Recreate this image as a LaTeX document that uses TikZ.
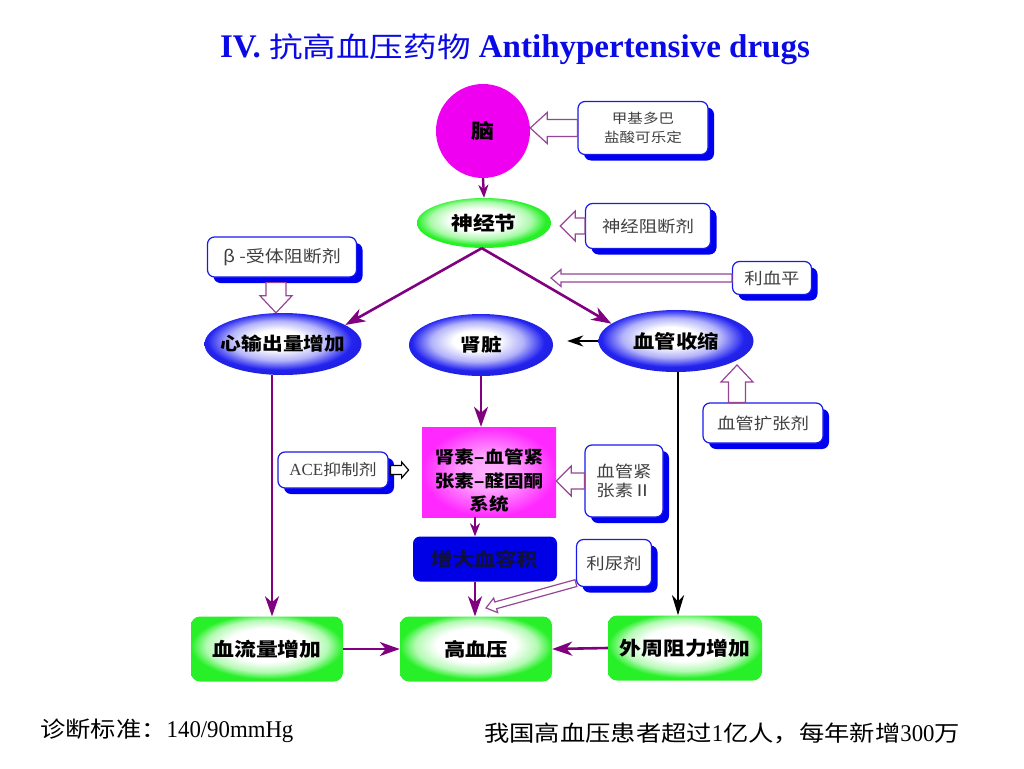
\documentclass[tikz,border=0pt]{standalone}
\usepackage{fontspec}
\usetikzlibrary{shapes.geometric,arrows.meta,calc,shadows}
\newfontfamily\cjk[FakeStretch=1.15]{Noto Sans CJK SC}
\newfontfamily\cjkt[FakeStretch=1.2]{Noto Sans CJK SC}
\newfontfamily\latr{Liberation Serif}
\newfontfamily\latn[FakeStretch=0.95]{Liberation Serif}
\definecolor{arrp}{RGB}{128,0,128}
\definecolor{hollowp}{RGB}{150,70,150}
\definecolor{boxblue}{RGB}{25,25,235}
\definecolor{shadowblue}{RGB}{0,0,240}
\definecolor{graytxt}{RGB}{64,64,64}
\definecolor{zdblue}{RGB}{0,0,230}
\definecolor{brainmag}{RGB}{240,0,240}
\definecolor{g1}{RGB}{40,240,40}
\definecolor{b1}{RGB}{35,35,240}
\definecolor{m1}{RGB}{255,40,255}
\definecolor{titleblue}{RGB}{10,10,230}
\pgfdeclareradialshading{bluesh}{\pgfpoint{-2bp}{4bp}}{color(0bp)=(white);color(8bp)=(white);color(16bp)=(b1!35!white);color(23bp)=(b1);color(25bp)=(b1!95!black);color(50bp)=(b1!95!black)}
\pgfdeclareradialshading{greensh}{\pgfpoint{-2bp}{4bp}}{color(0bp)=(white);color(11bp)=(white);color(19bp)=(g1!40!white);color(24bp)=(g1);color(50bp)=(g1)}
\pgfdeclareradialshading{greenbx}{\pgfpoint{0bp}{4bp}}{color(0bp)=(white);color(13bp)=(white);color(20bp)=(g1!35!white);color(25bp)=(g1);color(50bp)=(g1)}
\pgfdeclareradialshading{magsh}{\pgfpoint{0bp}{0bp}}{color(0bp)=(m1!35!white);color(10bp)=(m1!45!white);color(25bp)=(m1);color(50bp)=(m1)}
\newcommand\harrow[6]{%
  \draw[hollow,#1] let \p1=(#2), \p2=(#3), \n1={atan2(\y2-\y1,\x2-\x1)}, \n2={veclen(\x2-\x1,\y2-\y1)-#6} in
    ($(\p1)+(\n1+90:#4)$) -- ($(\p1)+(\n1:\n2)+(\n1+90:#4)$) -- ($(\p1)+(\n1:\n2)+(\n1+90:#5)$) -- (\p2)
    -- ($(\p1)+(\n1:\n2)+(\n1-90:#5)$) -- ($(\p1)+(\n1:\n2)+(\n1-90:#4)$) -- ($(\p1)+(\n1-90:#4)$) -- cycle;}
\tikzset{
  drugbox/.style={draw=boxblue, line width=1.2pt, fill=white, rounded corners=7pt, inner sep=0pt, align=center,
    text=graytxt, font=\cjk\fontsize{16}{19}\selectfont,
    drop shadow={shadow xshift=6pt, shadow yshift=-6pt, fill=shadowblue, opacity=1}},
  bigtxt/.style={font=\cjk\bfseries\fontsize{18}{20}\selectfont, text=black},
  blueell/.style={ellipse, shade, shading=bluesh, inner sep=0pt},
  greenell/.style={ellipse, shade, shading=greensh, inner sep=0pt},
  greenbox/.style={rectangle, rounded corners=9pt, shade, shading=greenbx, inner sep=0pt, minimum width=152pt, minimum height=65pt,
    font=\cjk\bfseries\fontsize{19}{22}\selectfont},
  parr/.style={draw=arrp, line width=2.6pt, -{Stealth[length=20pt,width=14pt,inset=6pt]}},
  parrs/.style={draw=arrp, line width=2.4pt, -{Stealth[length=13pt,width=10pt,inset=4pt]}},
  barr/.style={draw=black, line width=2.4pt, -{Stealth[length=20pt,width=12pt,inset=6pt]}},
  hollow/.style={draw=hollowp, line width=1.2pt, fill=white, line join=miter},
  plain/.style={anchor=west, inner sep=0pt, font=\cjk\fontsize{22}{24}\selectfont},
}
\newcommand\digs[1]{{\latn\fontsize{24}{24}\selectfont #1}}
\begin{document}
\begin{tikzpicture}[x=1pt,y=-1pt]
\path[use as bounding box, fill=white] (0,0) rectangle (1024,768);

% title
\node[anchor=base, text=titleblue, inner sep=0pt] (title) at (515,57)
  {\latr\bfseries\fontsize{33}{36}\selectfont IV. {\cjkt\mdseries\fontsize{28}{30}\selectfont 抗高血压药物} Antihypertensive drugs};

% main shapes
\node[circle, fill=brainmag, minimum size=94pt, inner sep=0pt, bigtxt, font=\cjk\bfseries\fontsize{20}{22}\selectfont] (brain) at (483,131) {脑};
\node[greenell, minimum width=134pt, minimum height=50pt, label={[bigtxt,font=\cjk\bfseries\fontsize{19}{21}\selectfont]center:神经节}] (gj) at (484,223) {};
\node[blueell, minimum width=157pt, minimum height=62pt, label={[bigtxt]center:心输出量增加}] (cx) at (283,344) {};
\node[blueell, minimum width=144pt, minimum height=62pt, label={[bigtxt]center:肾脏}] (sz) at (481,345) {};
\node[blueell, minimum width=155pt, minimum height=62pt, label={[bigtxt,font=\cjk\bfseries\fontsize{18.5}{20}\selectfont]center:血管收缩}] (xg) at (676,341) {};
\node[rectangle, shade, shading=magsh, minimum width=134pt, minimum height=90pt, inner sep=0pt,
  label={[bigtxt, align=center, font=\cjk\bfseries\fontsize{17}{23.5}\selectfont, yshift=-9pt]center:{肾素–血管紧\\张素–醛固酮\\系统}}] (raas) at (489,472) {};
\node[rectangle, rounded corners=7pt, fill=zdblue, minimum width=144pt, minimum height=45pt, inner sep=0pt,
  font=\cjk\bfseries\fontsize{18.5}{20}\selectfont, text={rgb,255:red,16;green,16;blue,64}] (zd) at (485,559) {增大血容积};
\node[greenbox] (bl) at (267,649) {血流量增加};
\node[greenbox, font=\cjk\bfseries\fontsize{18.5}{22}\selectfont] (gxy) at (476,649) {高血压};
\node[greenbox, minimum width=154pt] (wz) at (685,648) {外周阻力增加};

% drug boxes
\node[drugbox, minimum width=130pt, minimum height=53pt, font=\cjk\fontsize{13.5}{19}\selectfont] (mdbox) at (643,128) {甲基多巴\\盐酸可乐定};
\node[drugbox, minimum width=125pt, minimum height=45pt] (sjbox) at (648,226) {神经阻断剂};
\node[drugbox, minimum width=149pt, minimum height=40pt, font=\cjk\fontsize{16.5}{19}\selectfont] (bbox) at (282,257) {β -受体阻断剂};
\node[drugbox, minimum width=79pt, minimum height=33pt] (lxp) at (772,278) {利血平};
\node[drugbox, minimum width=120pt, minimum height=40pt] (xgkz) at (763,423) {血管扩张剂};
\node[drugbox, minimum width=110pt, minimum height=36pt, font=\cjk\fontsize{15.5}{19}\selectfont] (ace) at (333,470) {{\latr\fontsize{17}{19}\selectfont ACE}抑制剂};
\node[drugbox, minimum width=78pt, minimum height=72pt] (ag2) at (624,481) {血管紧\\张素Ⅱ};
\node[drugbox, minimum width=75pt, minimum height=47pt] (lnj) at (614,563) {利尿剂};

% helper coordinates
\path (gj.east) ++(9,0) coordinate (gjR);
\path (bbox.south) ++(-6,5) coordinate (bS);
\coordinate (lxpT) at (551,278);
\path (xgkz.north) ++(-26,0) coordinate (xkN);
\coordinate (xkT) at (737,365);
\path (ace.east) ++(2,0) coordinate (aceE);
\path (aceE) ++(18,0) coordinate (aceT);
\path (lnj.south west) ++(0,-4) coordinate (lnjS);
\coordinate (lnjT) at (486,608);
\path (sz.east) ++(14,0) coordinate (szE);
\path (raas.south) ++(-14,0) coordinate (raasS);
\path (zd.south) ++(-10,0) coordinate (zdS);
\path (cx.south) ++(-11,0) coordinate (cxS);
\path (xg.south) ++(2,0) coordinate (xgS);

% solid connectors
\draw[parrs] (brain.south) -- (gj.north);
\draw[parr] (gj.-95) -- (cx.17);
\draw[parr] (gj.-95) -- (xg.165);
\draw[barr, -{Stealth[length=16pt,width=11pt,inset=5pt]}] (xg.west) -- (szE |- xg.west);
\draw[parr] (sz.south) -- (sz.south |- raas.north);
\draw[parrs] (raasS) -- (raasS |- zd.north);
\draw[parr] (zdS) -- (zdS |- gxy.north);
\draw[parr] (cxS) -- (cxS |- bl.north);
\draw[barr] (xgS) -- (xgS |- wz.north);
\draw[parr] (bl.east) -- (gxy.west);
\draw[parr] (wz.west) -- (gxy.east);

% hollow drug arrows
\harrow{}{mdbox.west}{brain.east |- mdbox.west}{8.5pt}{15.5pt}{17pt}
\harrow{}{sjbox.west}{gjR |- sjbox.west}{8pt}{15pt}{15pt}
\harrow{}{bS}{bS |- cx.north}{10pt}{16pt}{17pt}
\harrow{}{lxp.west}{lxpT}{4pt}{8.5pt}{10pt}
\harrow{}{xkN}{xkT}{8.5pt}{16pt}{17pt}
\harrow{draw=black}{aceE}{aceT}{4.5pt}{8pt}{7pt}
\harrow{}{ag2.west}{raas.east |- ag2.west}{8pt}{15pt}{15pt}
\harrow{}{lnjS}{lnjT}{3.5pt}{7.5pt}{10pt}

% bottom texts
\node[plain] (diag) at (40,731) {诊断标准：\digs{140/90mmHg}};
\node[plain] (stat) at (484,733) {我国高血压患者超过\digs{1}亿人，每年新增\digs{300}万};
\end{tikzpicture}
\end{document}
